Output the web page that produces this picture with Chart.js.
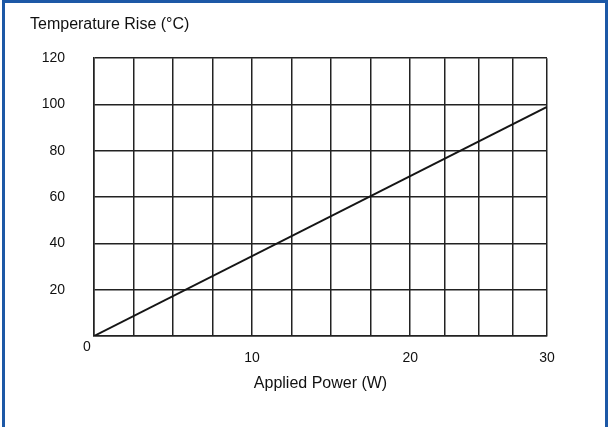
<!DOCTYPE html>
<html>
<head>
<meta charset="utf-8">
<script src="https://cdn.jsdelivr.net/npm/chart.js@4.4.0/dist/chart.umd.min.js"></script>
<style>
    body { margin: 0; background: #fff; }
    #wrap { position: relative; width: 608px; height: 427px; overflow: hidden; }
    #chart { position: absolute; left: 0; top: 0; }
    #frame {
        position: absolute; left: 2px; top: 0; width: 606px; height: 440px;
        box-sizing: border-box; border: 3px solid #1c58a6; border-bottom: none;
        pointer-events: none;
    }
</style>
</head>
<body>
<div id="wrap">
    <canvas id="chart" width="608" height="427"></canvas>
    <div id="frame"></div>
</div>
<script>
// data
var powerW = [0, 30];
var tempRise = [0, 99];
var xTickLabels = [10, 20, 30];
var yTickLabels = [20, 40, 60, 80, 100, 120];

// the printed grid is not uniform: 0..20 W takes more room than 20..30 W
class PiecewiseScale extends Chart.LinearScale {
    valueToDecimal(value) {
        var brk = this.options.breakAt;
        var frac = this.options.breakFraction;
        if (value <= brk) {
            return (value - this.min) / (brk - this.min) * frac;
        }
        return frac + (value - brk) / (this.max - brk) * (1 - frac);
    }
    getPixelForValue(value) {
        if (value === null || value === undefined) return NaN;
        return this.getPixelForDecimal(this.valueToDecimal(value));
    }
    getValueForPixel(pixel) {
        var d = this.getDecimalForPixel(pixel);
        var brk = this.options.breakAt;
        var frac = this.options.breakFraction;
        if (d <= frac) return this.min + d / frac * (brk - this.min);
        return brk + (d - frac) / (1 - frac) * (this.max - brk);
    }
}
PiecewiseScale.id = "piecewise";
PiecewiseScale.defaults = Chart.LinearScale.defaults;
Chart.register(PiecewiseScale);

var gridColor = "#222";
var textColor = "#111";
var fontFamily = "'Liberation Sans', Arial, sans-serif";

// the "0" at the origin sits apart from both axes
var originLabel = {
    id: "originLabel",
    afterDraw(chart) {
        var ctx = chart.ctx;
        var x = chart.scales.x.getPixelForValue(0);
        var y = chart.scales.y.getPixelForValue(0);
        ctx.save();
        ctx.fillStyle = textColor;
        ctx.font = "14px " + fontFamily;
        ctx.textAlign = "center";
        ctx.textBaseline = "middle";
        ctx.fillText("0", x - 7, y + 11);
        ctx.restore();
    }
};

var points = [];
for (var i = 0; i < powerW.length; i++) {
    points.push({ x: powerW[i], y: tempRise[i] });
}

new Chart(document.getElementById("chart"), {
    type: "line",
    data: {
        datasets: [{
            data: points,
            borderColor: "#151515",
            borderWidth: 2,
            pointRadius: 0,
            fill: false,
        }],
    },
    options: {
        responsive: false,
        animation: false,
        layout: { padding: { left: 30, right: 61, top: 0, bottom: 31 } },
        plugins: {
            legend: { display: false },
            tooltip: { enabled: false },
            title: {
                display: true,
                text: "Temperature Rise (°C)",
                align: "start",
                color: textColor,
                font: { family: fontFamily, size: 16, weight: "normal" },
                padding: { top: 15, bottom: 24 },
            },
        },
        scales: {
            x: {
                type: "piecewise",
                breakAt: 20,
                breakFraction: 0.698,
                min: 0,
                max: 30,
                ticks: {
                    stepSize: 2.5,
                    autoSkip: false,
                    maxRotation: 0,
                    padding: 14,
                    color: textColor,
                    font: { family: fontFamily, size: 14 },
                    callback: function (v) {
                        return xTickLabels.indexOf(v) >= 0 ? String(v) : "";
                    },
                },
                grid: { color: gridColor, lineWidth: 1.5, drawTicks: false },
                border: { color: gridColor, width: 1.5 },
                title: {
                    display: true,
                    text: "Applied Power (W)",
                    color: textColor,
                    font: { family: fontFamily, size: 16 },
                    padding: { top: -6.5, bottom: 2.5 },
                },
            },
            y: {
                min: 0,
                max: 120,
                afterFit: function (scale) { scale.width = 64; },
                ticks: {
                    stepSize: 20,
                    padding: 29,
                    color: textColor,
                    font: { family: fontFamily, size: 14 },
                    callback: function (v) {
                        return yTickLabels.indexOf(v) >= 0 ? String(v) : "";
                    },
                },
                grid: { color: gridColor, lineWidth: 1.5, drawTicks: false },
                border: { color: gridColor, width: 1.5 },
            },
        },
    },
    plugins: [originLabel],
});
</script>
</body>
</html>
